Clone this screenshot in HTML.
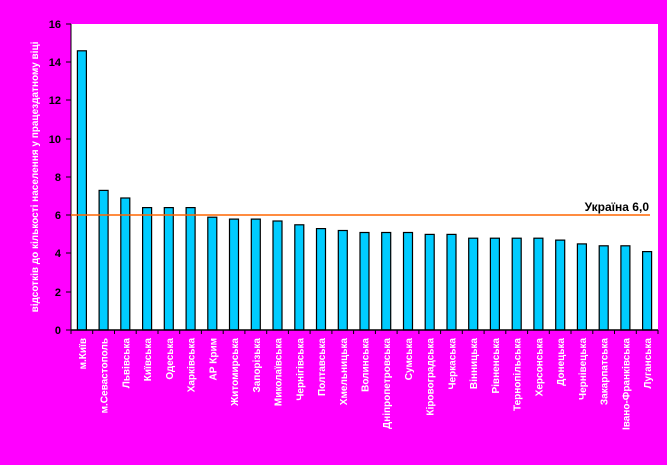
<!DOCTYPE html>
<html><head><meta charset="utf-8"><style>body{margin:0;background:#ff00ff}svg{display:block}</style></head><body>
<svg width="667" height="465" xmlns="http://www.w3.org/2000/svg" font-family="Liberation Sans, sans-serif">
<rect width="667" height="465" fill="#ff00ff"/>
<rect x="71" y="24" width="587" height="306" fill="#fff"/>
<line x1="71" y1="24" x2="71" y2="330" stroke="#000"/>
<g font-size="11" font-weight="bold" text-anchor="end" fill="#000">
<text x="61" y="28">16</text><text x="61" y="66">14</text><text x="61" y="104">12</text><text x="61" y="143">10</text><text x="61" y="181">8</text><text x="61" y="219">6</text><text x="61" y="257">4</text><text x="61" y="296">2</text><text x="61" y="334">0</text>
</g>
<g stroke="#000"><line x1="66" y1="24" x2="71" y2="24"/><line x1="66" y1="62" x2="71" y2="62"/><line x1="66" y1="100" x2="71" y2="100"/><line x1="66" y1="139" x2="71" y2="139"/><line x1="66" y1="177" x2="71" y2="177"/><line x1="66" y1="215" x2="71" y2="215"/><line x1="66" y1="253" x2="71" y2="253"/><line x1="66" y1="292" x2="71" y2="292"/><line x1="66" y1="330" x2="71" y2="330"/></g>
<text transform="translate(38,177) rotate(-90)" text-anchor="middle" font-size="10" font-weight="bold" fill="#fff">відсотків до кількості населення у працездатному віці</text>
<g fill="#00ccff" stroke="#000" stroke-width="1.2">
<rect x="77.4" y="50.8" width="9" height="279.2"/>
<rect x="99.1" y="190.4" width="9" height="139.6"/>
<rect x="120.8" y="198" width="9" height="132"/>
<rect x="142.6" y="207.6" width="9" height="122.4"/>
<rect x="164.3" y="207.6" width="9" height="122.4"/>
<rect x="186.1" y="207.6" width="9" height="122.4"/>
<rect x="207.8" y="217.2" width="9" height="112.8"/>
<rect x="229.5" y="219.1" width="9" height="110.9"/>
<rect x="251.3" y="219.1" width="9" height="110.9"/>
<rect x="273" y="221" width="9" height="109"/>
<rect x="294.8" y="224.8" width="9" height="105.2"/>
<rect x="316.5" y="228.6" width="9" height="101.4"/>
<rect x="338.3" y="230.5" width="9" height="99.5"/>
<rect x="360" y="232.5" width="9" height="97.5"/>
<rect x="381.7" y="232.5" width="9" height="97.5"/>
<rect x="403.5" y="232.5" width="9" height="97.5"/>
<rect x="425.2" y="234.4" width="9" height="95.6"/>
<rect x="447" y="234.4" width="9" height="95.6"/>
<rect x="468.7" y="238.2" width="9" height="91.8"/>
<rect x="490.4" y="238.2" width="9" height="91.8"/>
<rect x="512.2" y="238.2" width="9" height="91.8"/>
<rect x="533.9" y="238.2" width="9" height="91.8"/>
<rect x="555.7" y="240.1" width="9" height="89.9"/>
<rect x="577.4" y="243.9" width="9" height="86.1"/>
<rect x="599.2" y="245.8" width="9" height="84.2"/>
<rect x="620.9" y="245.8" width="9" height="84.2"/>
<rect x="642.6" y="251.6" width="9" height="78.4"/>
</g>
<line x1="71" y1="330" x2="658" y2="330" stroke="#000" stroke-width="1.5"/>
<g stroke="#000">
<line x1="71" y1="330" x2="71" y2="334"/><line x1="92.7" y1="330" x2="92.7" y2="334"/><line x1="114.5" y1="330" x2="114.5" y2="334"/><line x1="136.2" y1="330" x2="136.2" y2="334"/><line x1="158" y1="330" x2="158" y2="334"/><line x1="179.7" y1="330" x2="179.7" y2="334"/><line x1="201.4" y1="330" x2="201.4" y2="334"/><line x1="223.2" y1="330" x2="223.2" y2="334"/><line x1="244.9" y1="330" x2="244.9" y2="334"/><line x1="266.7" y1="330" x2="266.7" y2="334"/><line x1="288.4" y1="330" x2="288.4" y2="334"/><line x1="310.1" y1="330" x2="310.1" y2="334"/><line x1="331.9" y1="330" x2="331.9" y2="334"/><line x1="353.6" y1="330" x2="353.6" y2="334"/><line x1="375.4" y1="330" x2="375.4" y2="334"/><line x1="397.1" y1="330" x2="397.1" y2="334"/><line x1="418.9" y1="330" x2="418.9" y2="334"/><line x1="440.6" y1="330" x2="440.6" y2="334"/><line x1="462.3" y1="330" x2="462.3" y2="334"/><line x1="484.1" y1="330" x2="484.1" y2="334"/><line x1="505.8" y1="330" x2="505.8" y2="334"/><line x1="527.6" y1="330" x2="527.6" y2="334"/><line x1="549.3" y1="330" x2="549.3" y2="334"/><line x1="571" y1="330" x2="571" y2="334"/><line x1="592.8" y1="330" x2="592.8" y2="334"/><line x1="614.5" y1="330" x2="614.5" y2="334"/><line x1="636.3" y1="330" x2="636.3" y2="334"/><line x1="658" y1="330" x2="658" y2="334"/>
</g>
<line x1="71" y1="215" x2="650" y2="215" stroke="#ff6600" stroke-width="1.5"/>
<text x="649" y="211" text-anchor="end" font-size="12" font-weight="bold">Україна 6,0</text>
<g font-size="10" font-weight="bold" fill="#fff" text-anchor="end">
<text transform="translate(85.9,338) rotate(-90)">м.Київ</text>
<text transform="translate(107.6,338) rotate(-90)">м.Севастополь</text>
<text transform="translate(129.3,338) rotate(-90)">Львівська</text>
<text transform="translate(151.1,338) rotate(-90)">Київська</text>
<text transform="translate(172.8,338) rotate(-90)">Одеська</text>
<text transform="translate(194.6,338) rotate(-90)">Харківська</text>
<text transform="translate(216.3,338) rotate(-90)">АР Крим</text>
<text transform="translate(238,338) rotate(-90)">Житомирська</text>
<text transform="translate(259.8,338) rotate(-90)">Запорізька</text>
<text transform="translate(281.5,338) rotate(-90)">Миколаївська</text>
<text transform="translate(303.3,338) rotate(-90)">Чернігівська</text>
<text transform="translate(325,338) rotate(-90)">Полтавська</text>
<text transform="translate(346.8,338) rotate(-90)">Хмельницька</text>
<text transform="translate(368.5,338) rotate(-90)">Волинська</text>
<text transform="translate(390.2,338) rotate(-90)">Дніпропетровська</text>
<text transform="translate(412,338) rotate(-90)">Сумська</text>
<text transform="translate(433.7,338) rotate(-90)">Кіровоградська</text>
<text transform="translate(455.5,338) rotate(-90)">Черкаська</text>
<text transform="translate(477.2,338) rotate(-90)">Вінницька</text>
<text transform="translate(498.9,338) rotate(-90)">Рівненська</text>
<text transform="translate(520.7,338) rotate(-90)">Тернопільська</text>
<text transform="translate(542.4,338) rotate(-90)">Херсонська</text>
<text transform="translate(564.2,338) rotate(-90)">Донецька</text>
<text transform="translate(585.9,338) rotate(-90)">Чернівецька</text>
<text transform="translate(607.7,338) rotate(-90)">Закарпатська</text>
<text transform="translate(629.4,338) rotate(-90)">Івано-Франківська</text>
<text transform="translate(651.1,338) rotate(-90)">Луганська</text>
</g>
</svg>
</body></html>
